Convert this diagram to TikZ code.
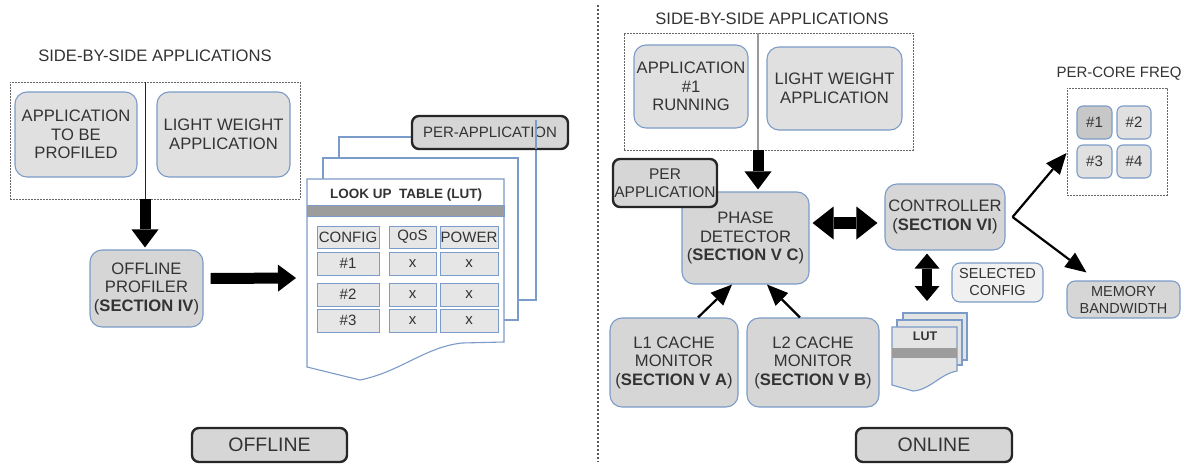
\documentclass[tikz,border=0pt]{standalone}
\usepackage{fontspec}
\setmainfont{Liberation Sans}
\usetikzlibrary{arrows.meta,calc}
\definecolor{tc}{HTML}{333333}
\definecolor{bc}{HTML}{7B9BC8}
\definecolor{boxg}{HTML}{D6D6D6}
\definecolor{appg}{HTML}{E0E0E0}
\definecolor{cellg}{HTML}{E6E6E6}
\definecolor{barg}{HTML}{9C9C9C}
\definecolor{lutg}{HTML}{E4E4E4}
\newcommand\fz[2]{\fontsize{#1}{#2}\selectfont}
\begin{document}
\begin{tikzpicture}[x=1pt,y=-1pt,
  rbox/.style={draw=bc, fill=boxg, rounded corners=12pt, line width=1.1pt, text=tc, align=center, inner sep=0pt, font=\fz{16.6}{18.5}},
  appbox/.style={rbox, fill=appg},
  tagbox/.style={draw=black!85, fill=boxg, rounded corners=7pt, line width=2.4pt, text=tc, align=center, inner sep=0pt},
  cell/.style={draw=bc, fill=cellg, line width=1pt, text=tc, inner sep=0pt, font=\fz{15}{17}},
  dotbox/.style={draw=black!60, dash pattern=on 1.6pt off 1.4pt, line width=0.9pt, inner sep=0pt},
  lbl/.style={text=tc, inner sep=0pt, font=\fz{16.6}{18.5}},
  page/.style={draw=bc, fill=white, line width=1.1pt},
  bigarrow/.style={line width=11pt, -{Triangle[length=18pt,width=27pt,line width=0pt]}},
  bigdouble/.style={line width=12pt, {Triangle[length=21pt,width=33pt,line width=0pt]}-{Triangle[length=21pt,width=33pt,line width=0pt]}},
  vdouble/.style={line width=10pt, {Triangle[length=15pt,width=25pt,line width=0pt]}-{Triangle[length=15pt,width=25pt,line width=0pt]}},
  thinarrow/.style={line width=2.2pt, -{Triangle[length=21pt,width=18pt,line width=0pt]}}
]
\useasboundingbox (0,0) rectangle (1188,466);

%% ---------------- OFFLINE (left) ----------------
\node[lbl] (t1) at (155,56) {SIDE-BY-SIDE APPLICATIONS};
\node[dotbox, minimum width=290pt, minimum height=117pt] (sbs1) at (155,140.5) {};
\coordinate (d1t) at (145,82);
\coordinate (d1b) at (145,199);
\draw[line width=1pt, black!85] (d1t) -- (d1b);
\node[appbox, minimum width=122pt, minimum height=85pt] (app1) at (76,134.5) {APPLICATION\\TO BE\\PROFILED};
\node[appbox, minimum width=133pt, minimum height=85pt] (lw1) at (223.5,134.5) {LIGHT WEIGHT\\APPLICATION};

\node[rbox, minimum width=113pt, minimum height=77pt] (prof) at (146.5,288.5) {OFFLINE\\PROFILER\\(\textbf{SECTION IV})};
\draw[bigarrow] (d1b) -- ([yshift=2pt]d1b |- prof.north);

% LUT stack
\fill[page] (339,137) rectangle (536,300);
\fill[page] (323,158) rectangle (518,320);
\filldraw[page] (307,179) -- (504,179) -- (504,342) -- (462,343)
   .. controls (425,347) and (400,372) .. (360,380) -- (307,367) -- cycle;
\coordinate (lutl) at (296,278);
\draw[bigarrow] ([xshift=7pt,yshift=10pt]prof.east) -- (lutl);
\node[text=tc, inner sep=0pt, font=\fz{13.5}{15}\bfseries] (luttitle) at (406,195) {LOOK UP\ \ TABLE (LUT)};
\fill[barg] (307,205) rectangle (504,216);
\draw[bc, line width=0.6pt] (307,205) rectangle (504,216);

\node[cell, minimum width=62pt, minimum height=22pt] (h1) at (348,237) {CONFIG};
\node[cell, minimum width=47pt, minimum height=22pt] (h2) at (412.5,237) {QoS};
\node[cell, minimum width=58pt, minimum height=22pt] (h3) at (469,237) {POWER};
\node[cell, minimum width=62pt, minimum height=23pt] (r11) at (348,263.5) {\#1};
\node[cell, minimum width=47pt, minimum height=23pt] (r12) at (412.5,263.5) {x};
\node[cell, minimum width=58pt, minimum height=23pt] (r13) at (469,263.5) {x};
\node[cell, minimum width=62pt, minimum height=23pt] (r21) at (348,294.5) {\#2};
\node[cell, minimum width=47pt, minimum height=23pt] (r22) at (412.5,294.5) {x};
\node[cell, minimum width=58pt, minimum height=23pt] (r23) at (469,294.5) {x};
\node[cell, minimum width=62pt, minimum height=23pt] (r31) at (348,320.5) {\#3};
\node[cell, minimum width=47pt, minimum height=23pt] (r32) at (412.5,320.5) {x};
\node[cell, minimum width=58pt, minimum height=23pt] (r33) at (469,320.5) {x};

\node[tagbox, minimum width=156pt, minimum height=33pt, font=\fz{15}{17}] (perapp1) at (490,132.5) {PER-APPLICATION};
\draw[bc, line width=1.1pt] (536,120) -- (536,149);

\node[tagbox, minimum width=155pt, minimum height=34pt, font=\fz{19.5}{21}] (offline) at (269.5,445) {OFFLINE};

%% ---------------- divider ----------------
\coordinate (divt) at (598,5);
\coordinate (divb) at (598,462);
\draw[black!65, line width=1.2pt, dash pattern=on 2pt off 2pt] (divt) -- (divb);

%% ---------------- ONLINE (right) ----------------
\node[lbl] (t2) at (772,19) {SIDE-BY-SIDE APPLICATIONS};
\node[dotbox, minimum width=289pt, minimum height=117pt] (sbs2) at (768.5,91.5) {};
\coordinate (d2t) at (758,33);
\coordinate (d2b) at (758,150);
\draw[line width=2pt, black!40] (d2t) -- (d2b);
\node[appbox, minimum width=114pt, minimum height=83pt] (app2) at (691,86.5) {APPLICATION\\\#1\\RUNNING};
\node[appbox, minimum width=135pt, minimum height=83pt] (lw2) at (834.5,88.5) {LIGHT WEIGHT\\APPLICATION};

\node[rbox, minimum width=127pt, minimum height=92pt] (pd) at (745.5,238) {PHASE\\DETECTOR\\(\textbf{SECTION V C})};
\draw[bigarrow] (d2b) -- ([yshift=2pt]d2b |- pd.north);
\node[tagbox, minimum width=104pt, minimum height=48pt, font=\fz{15.5}{18}] (perapp2) at (665,183) {PER\\APPLICATION};

\node[rbox, minimum width=128pt, minimum height=89pt] (l1) at (674,362.5) {L1 CACHE\\MONITOR\\(\textbf{SECTION V A})};
\node[rbox, minimum width=132pt, minimum height=89pt] (l2) at (813,362.5) {L2 CACHE\\MONITOR\\(\textbf{SECTION V B})};
\draw[thinarrow] ([xshift=24pt]l1.north) -- ([xshift=-13.5pt]pd.south);
\draw[thinarrow] ([xshift=-13pt]l2.north) -- ([xshift=21.5pt]pd.south);

\node[rbox, minimum width=120pt, minimum height=66pt] (ctrl) at (945,217) {CONTROLLER\\(\textbf{SECTION VI})};
\draw[bigdouble] ([xshift=3pt,yshift=15pt]pd.east) -- ([xshift=-7pt,yshift=-6pt]ctrl.west);

\node[lbl, font=\fz{15}{17}] (pcl) at (1119,74) {PER-CORE FREQ};
\node[dotbox, minimum width=100pt, minimum height=107pt] (pc) at (1117,141.5) {};
\node[rbox, rounded corners=6pt, fill=black!22, minimum width=35pt, minimum height=33pt, font=\fz{15}{17}] (c1) at (1094.5,122.5) {\#1};
\node[rbox, rounded corners=6pt, fill=appg, minimum width=34pt, minimum height=33pt, font=\fz{15}{17}] (c2) at (1134,122.5) {\#2};
\node[rbox, rounded corners=6pt, fill=appg, minimum width=35pt, minimum height=33pt, font=\fz{15}{17}] (c3) at (1094.5,161.5) {\#3};
\node[rbox, rounded corners=6pt, fill=appg, minimum width=34pt, minimum height=33pt, font=\fz{15}{17}] (c4) at (1134,161.5) {\#4};

\node[rbox, rounded corners=8pt, minimum width=113pt, minimum height=37pt, font=\fz{14.5}{17}] (mb) at (1123.5,299.5) {MEMORY\\BANDWIDTH};
\draw[thinarrow] ([xshift=7pt]ctrl.east) -- ([yshift=-11.5pt]pc.west);
\draw[thinarrow] ([xshift=7pt]ctrl.east) -- ([xshift=20pt,yshift=8pt]mb.north west);

\node[rbox, rounded corners=8pt, fill=black!6, minimum width=91pt, minimum height=39pt, font=\fz{14.5}{17}] (sel) at (997.5,282.5) {SELECTED\\CONFIG};

% small LUT
\filldraw[page, fill=lutg] (903,313) rectangle (967,360);
\filldraw[page, fill=lutg] (897,320) rectangle (962,365);
\filldraw[page, fill=lutg] (892,327) -- (957,327) -- (957,371)
   .. controls (940,374) and (930,390) .. (913,391) -- (892,385) -- cycle;
\fill[barg] (892,348) rectangle (957,358);
\node[text=tc, inner sep=0pt, font=\fz{12.5}{14}\bfseries] (lutsm) at (925,336) {LUT};
\coordinate (lutt) at (927,301);
\draw[vdouble] ([xshift=-18pt,yshift=-3pt]ctrl.south) -- (lutt);

\node[tagbox, minimum width=156pt, minimum height=34pt, font=\fz{19.5}{21}] (online) at (934,445) {ONLINE};
\end{tikzpicture}
\end{document}
